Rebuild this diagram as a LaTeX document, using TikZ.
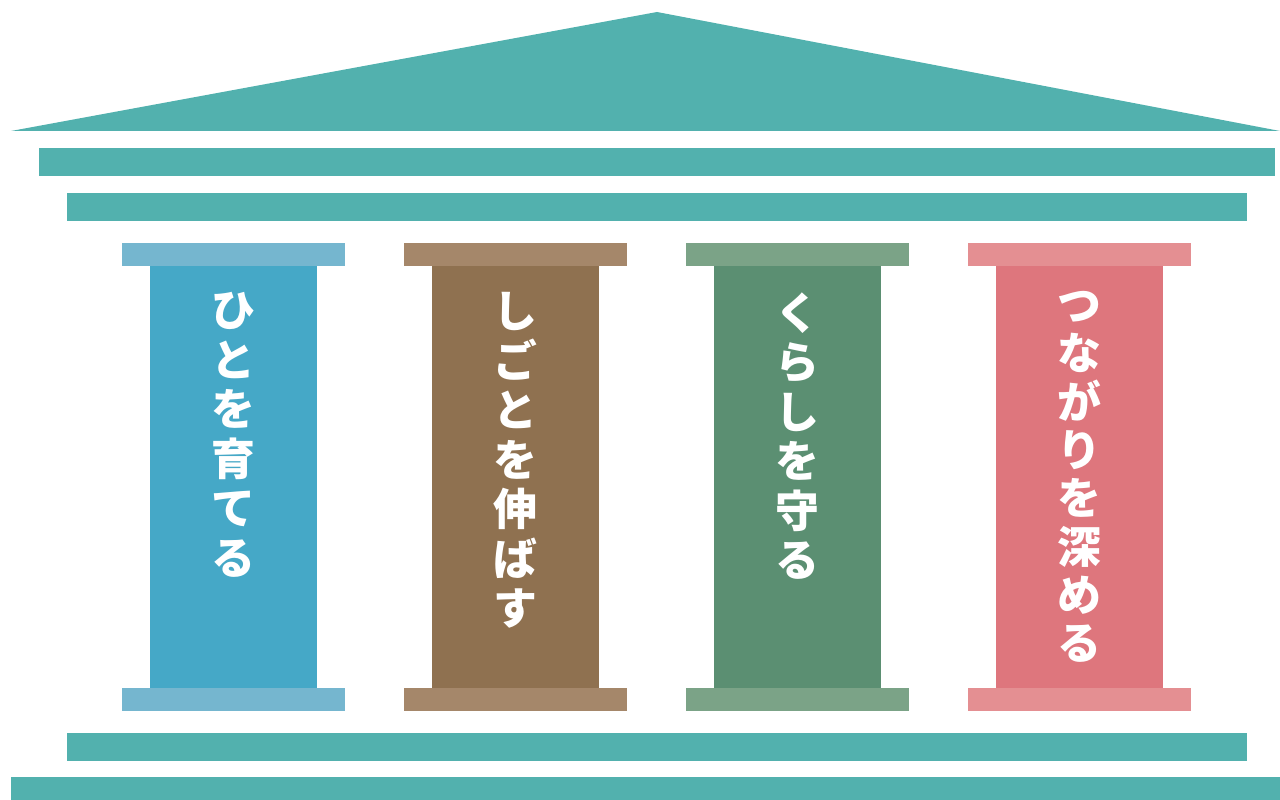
\documentclass[tikz,border=0pt]{standalone}
\usepackage{fontspec}
\newfontfamily\jpfont{Noto Sans CJK JP}
\definecolor{roofteal}{HTML}{52B1AE}
\definecolor{blueshaft}{HTML}{45A8C7}
\definecolor{bluecap}{HTML}{75B6CF}
\definecolor{brownshaft}{HTML}{8F7150}
\definecolor{browncap}{HTML}{A5876A}
\definecolor{greenshaft}{HTML}{5B8F72}
\definecolor{greencap}{HTML}{7BA387}
\definecolor{pinkshaft}{HTML}{DE767D}
\definecolor{pinkcap}{HTML}{E48F92}

\begin{document}
\begin{tikzpicture}[x=0.02cm, y=-0.02cm]
        \tikzstyle{slab} = [fill=roofteal]
        \tikzstyle{pillartext} = [anchor=north, inner sep=0pt, align=center, text=white, font=\jpfont\bfseries\fontsize{25}{28.2}\selectfont]
        \tikzstyle{longtext} = [pillartext, font=\jpfont\bfseries\fontsize{25}{27.5}\selectfont]

        \useasboundingbox (0,0) rectangle (1280,800);

        % roof and beams
        \fill [slab] (11,131) -- (657,12) -- (1280,131) -- cycle;
        \fill [slab] (39,148) rectangle (1275,176);
        \fill [slab] (67,193) rectangle (1247,221);

        % pillars
        \foreach \x/\shaft/\cap in {122/blueshaft/bluecap, 404/brownshaft/browncap, 686/greenshaft/greencap, 968/pinkshaft/pinkcap} {
            \fill [\shaft] (\x+28,266) rectangle (\x+195,688);
            \fill [\cap] (\x,243) rectangle (\x+223,266);
            \fill [\cap] (\x,688) rectangle (\x+223,711);
        }

        \node (hito) [pillartext] at (233.5,292) {ひ\\と\\を\\育\\て\\る};
        \node (shigoto) [pillartext] at (515.5,292) {し\\ご\\と\\を\\伸\\ば\\す};
        \node (kurashi) [pillartext] at (797.5,292) {く\\ら\\し\\を\\守\\る};
        \node (tsunagari) [longtext] at (1079.5,291) {つ\\な\\が\\り\\を\\深\\め\\る};

        % floor
        \fill [slab] (67,733) rectangle (1247,761);
        \fill [slab] (11,777) rectangle (1280,800);
    \end{tikzpicture}
\end{document}
